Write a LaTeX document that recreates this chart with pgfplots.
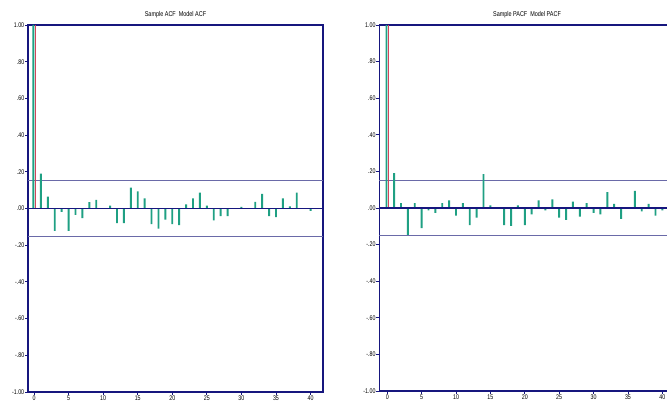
\documentclass[border=0pt]{standalone}
\usepackage{pgfplots}
\pgfplotsset{compat=1.18}
\usepackage{fontspec}
\setmainfont{Liberation Sans}
\newfontfamily\cond[FakeStretch=0.78]{Liberation Sans}
\definecolor{navy}{HTML}{16167E}
\definecolor{bargreen}{HTML}{1FA083}
\definecolor{barred}{HTML}{D2445A}
\definecolor{band}{HTML}{6A6AA8}
\begin{document}
\begin{tikzpicture}
\useasboundingbox (0pt,0pt) rectangle (667pt,405pt);
\pgfplotsset{
  acfstyle/.style={
    scale only axis,
    ymin=-1, ymax=1,
    ytick={-1,-0.8,-0.6,-0.4,-0.2,0,0.2,0.4,0.6,0.8,1},
    yticklabels={-1.00,-.80,-.60,-.40,-.20,.00,.20,.40,.60,.80,1.00},
    xtick={0,5,...,40},
    xtick pos=bottom, ytick pos=left,
    tick align=outside,
    major tick length=3pt,
    every tick/.style={navy, line width=0.9pt},
    axis line style={navy, line width=1.3pt},
    tick label style={font=\cond\fontsize{6.8}{7}\selectfont, text=black},
    /pgf/number format/assume math mode=true,
    yticklabel style={inner sep=0.6pt},
    xticklabel style={inner sep=0.8pt},
    title style={font=\cond\fontsize{7}{7}\selectfont, inner sep=1.5pt, yshift=-0.5pt},
    clip=false,
  },
  greenbar/.style={ybar, bar width=1.9pt, bar shift=0pt, fill=bargreen, draw=none},
  redbar/.style={ybar, bar width=1.3pt, bar shift=0pt, fill=barred, draw=none},
}
% ---------------- Left: ACF ----------------
\begin{axis}[acfstyle, at={(28pt,13pt)}, anchor=south west, width=295pt, height=367pt,
  xmin=-0.87, xmax=41.8, title={Sample ACF\ \ Model ACF}]
\addplot[band, line width=0.6pt] coordinates {(-0.87,0.152) (41.8,0.152)};
\addplot[band, line width=0.6pt] coordinates {(-0.87,-0.149) (41.8,-0.149)};
\addplot[greenbar] table {
x y
-0.1 1.00
1 0.19
2 0.065
3 -0.122
4 -0.018
5 -0.122
6 -0.035
7 -0.053
8 0.035
9 0.047
10 0.0
11 0.015
12 -0.080
13 -0.080
14 0.114
15 0.093
16 0.055
17 -0.085
18 -0.110
19 -0.060
20 -0.085
21 -0.090
22 0.022
23 0.055
24 0.087
25 0.015
26 -0.065
27 -0.042
28 -0.042
29 0.0
30 0.009
31 0.0
32 0.036
33 0.080
34 -0.042
35 -0.047
36 0.055
37 0.011
38 0.087
39 0.0
40 -0.013
};
\addplot[redbar] coordinates {(0.2,1.0)};
\addplot[navy, line width=1.2pt] coordinates {(-0.87,0) (41.8,0)};
\end{axis}
% ---------------- Right: PACF ----------------
\begin{axis}[acfstyle, at={(379.3pt,14pt)}, anchor=south west, width=295.4pt, height=366pt,
  xmin=-1.16, xmax=41.8, title={Sample PACF\ \ Model PACF}]
\addplot[band, line width=0.6pt] coordinates {(-1.16,0.152) (41.8,0.152)};
\addplot[band, line width=0.6pt] coordinates {(-1.16,-0.149) (41.8,-0.149)};
\addplot[greenbar] table {
x y
-0.12 1.00
1 0.19
2 0.027
3 -0.147
4 0.027
5 -0.110
6 -0.013
7 -0.027
8 0.027
9 0.042
10 -0.042
11 0.027
12 -0.093
13 -0.053
14 0.185
15 0.015
16 0.0
17 -0.093
18 -0.098
19 0.015
20 -0.093
21 -0.035
22 0.042
23 -0.013
24 0.047
25 -0.053
26 -0.065
27 0.035
28 -0.047
29 0.027
30 -0.027
31 -0.035
32 0.087
33 0.022
34 -0.060
35 0.0
36 0.093
37 -0.018
38 0.022
39 -0.042
40 -0.013
};
\addplot[redbar] coordinates {(0.17,1.0)};
\addplot[navy, line width=1.2pt] coordinates {(-1.16,0) (41.8,0)};
\end{axis}
\end{tikzpicture}
\end{document}
